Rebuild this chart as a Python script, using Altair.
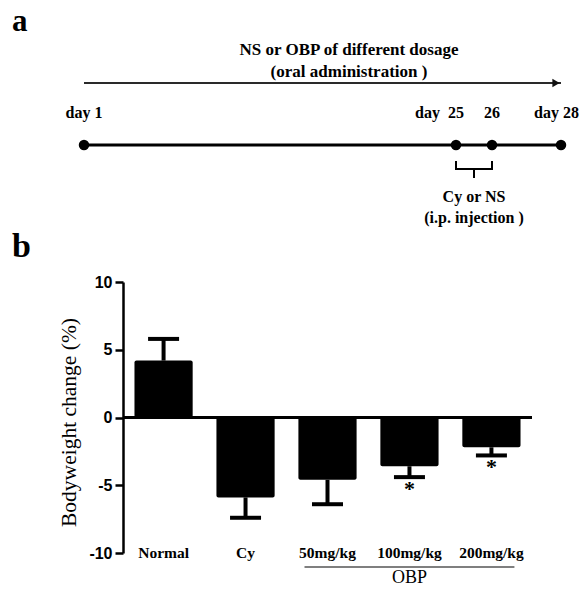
import altair as alt
import pandas as pd

# ---- panel b data ----
groups = ["Normal", "Cy", "50mg/kg", "100mg/kg", "200mg/kg"]
means = [4.2, -5.9, -4.6, -3.6, -2.2]
sems = [1.6, 1.5, 1.8, 0.8, 0.6]
stars = ["", "", "", "*", "*"]
y_ticks = [-10, -5, 0, 5, 10]
obp_groups = ["50mg/kg", "200mg/kg"]
obp_center = ["100mg/kg"]
obp_label = "OBP"

# ---- panel a data ----
days = [1, 25, 26, 28]
day_labels = ["day 1", "day\u00a0\u00a025", "26", "day 28"]
header_lines = ["NS or OBP of different dosage", "(oral administration )"]
injection_days = [25, 26]
injection_lines = ["Cy or NS", "(i.p. injection )"]

SERIF = "'Times New Roman', 'Liberation Serif', 'DejaVu Serif', serif"
SANS = "Arial, 'Liberation Sans', sans-serif"

bars_df = pd.DataFrame({
    "group": groups,
    "mean": means,
    "sem": sems,
    "star": stars,
})
bars_df["cap"] = [m + (s if m >= 0 else -s) for m, s in zip(means, sems)]

xs = alt.Scale(domain=groups, paddingInner=0.29, paddingOuter=0.14)
ys = alt.Scale(domain=[-10, 10], nice=False, zero=False)

base = alt.Chart(bars_df)

bars = base.mark_bar(color="black", cornerRadius=2).encode(
    x=alt.X("group:N", scale=xs, sort=groups,
            axis=alt.Axis(title=None, labelAngle=0, labelAlign="center", domain=False,
                          ticks=False, tickSize=0,
                          labelFont=SERIF, labelFontWeight="bold", labelFontSize=15.5,
                          labelColor="black", labelBaseline="middle", labelPadding=-1)),
    y=alt.Y("mean:Q", scale=ys,
            axis=alt.Axis(values=y_ticks, title="Bodyweight change (%)", grid=False,
                          labelExpr="datum.value + ''",
                          domainColor="black", domainWidth=2.5, tickColor="black",
                          tickWidth=2.5, tickSize=8, labelFont=SANS, labelFontWeight="bold",
                          labelFontSize=16, labelColor="black", labelPadding=3,
                          titleFont=SERIF, titleFontWeight="normal", titleFontSize=21.5,
                          titleColor="black", titlePadding=8, titleY=140)),
    y2=alt.datum(0),
)

stems = base.mark_rule(color="black", strokeWidth=4).encode(
    x=alt.X("group:N", scale=xs, sort=groups),
    y=alt.Y("mean:Q", scale=ys),
    y2="cap:Q",
)

caps = base.mark_tick(color="black", thickness=4, size=31, opacity=1).encode(
    x=alt.X("group:N", scale=xs, sort=groups),
    y=alt.Y("cap:Q", scale=ys),
)

star_marks = base.mark_text(font=SERIF, fontWeight="bold", fontSize=22, baseline="top",
                            dy=2, color="black").encode(
    x=alt.X("group:N", scale=xs, sort=groups),
    y=alt.Y("cap:Q", scale=ys),
    text="star:N",
)

zero = alt.Chart(pd.DataFrame({"z": [0]})).mark_rule(color="black", strokeWidth=3).encode(
    y=alt.Y("z:Q", scale=ys)
)

obp_line = alt.Chart(pd.DataFrame({"a": [obp_groups[0]], "b": [obp_groups[1]]})).mark_rule(
    color="black", strokeWidth=1.2, xOffset=-23, x2Offset=23
).encode(
    x=alt.X("a:N", scale=xs),
    x2="b:N",
    y=alt.value(285),
)

obp_text = alt.Chart(pd.DataFrame({"g": obp_center, "t": [obp_label]})).mark_text(
    font=SERIF, fontSize=18, baseline="alphabetic", color="black"
).encode(
    x=alt.X("g:N", scale=xs),
    y=alt.value(301),
    text="t:N",
)

panel_b = alt.layer(zero, stems, bars, caps, star_marks, obp_line, obp_text)

# ---- timeline (panel a) ----
ds = alt.Scale(domain=days, range=[-39, 333, 369, 438], nice=False, zero=False)
days_df = pd.DataFrame({"day": days, "label": day_labels})
tl = alt.Chart(days_df)

arrow_line = alt.Chart(pd.DataFrame({"s": [days[0]], "e": [days[-1]]})).mark_rule(
    color="#2a2a2a", strokeWidth=1.8
).encode(
    x=alt.X("s:Q", scale=ds, axis=None), x2="e:Q", y=alt.value(-199)
)
arrow_head = alt.Chart(pd.DataFrame({"e": [days[-1]]})).mark_point(
    shape="triangle-right", filled=True, size=70, color="#111111", opacity=1, xOffset=-5
).encode(
    x=alt.X("e:Q", scale=ds, axis=None), y=alt.value(-199)
)

main_line = alt.Chart(pd.DataFrame({"s": [days[0]], "e": [days[-1]]})).mark_rule(
    color="black", strokeWidth=3
).encode(
    x=alt.X("s:Q", scale=ds, axis=None), x2="e:Q", y=alt.value(-137)
)
dots = tl.mark_point(filled=True, size=110, color="black", opacity=1).encode(
    x=alt.X("day:Q", scale=ds, axis=None), y=alt.value(-137)
)

label_style = dict(font=SERIF, fontWeight="bold", fontSize=16, baseline="middle", color="black")
day_text_center = tl.transform_filter(
    (alt.datum.day != 25) & (alt.datum.day != 28)
).mark_text(**label_style).encode(
    x=alt.X("day:Q", scale=ds, axis=None), y=alt.value(-169), text="label:N"
)
day_text_25 = tl.transform_filter(alt.datum.day == 25).mark_text(
    align="right", dx=8, **label_style
).encode(
    x=alt.X("day:Q", scale=ds, axis=None), y=alt.value(-169), text="label:N"
)
day_text_28 = tl.transform_filter(alt.datum.day == 28).mark_text(
    align="right", dx=18, **label_style
).encode(
    x=alt.X("day:Q", scale=ds, axis=None), y=alt.value(-169), text="label:N"
)

inj_df = pd.DataFrame({"day": injection_days})
brace_h = alt.Chart(pd.DataFrame({"s": [injection_days[0]], "e": [injection_days[1]]})).mark_rule(
    color="black", strokeWidth=2
).encode(
    x=alt.X("s:Q", scale=ds, axis=None), x2="e:Q", y=alt.value(-113)
)
brace_v = alt.Chart(inj_df).mark_rule(color="black", strokeWidth=2).encode(
    x=alt.X("day:Q", scale=ds, axis=None), y=alt.value(-121), y2=alt.value(-112)
)
brace_mid = alt.Chart(inj_df).transform_aggregate(mid="mean(day)").mark_rule(
    color="black", strokeWidth=2
).encode(
    x=alt.X("mid:Q", scale=ds, axis=None), y=alt.value(-113), y2=alt.value(-104)
)
inj_layers = []
for line, yy in zip(injection_lines, [-85, -64]):
    inj_layers.append(
        alt.Chart(inj_df).transform_aggregate(mid="mean(day)").mark_text(**label_style).encode(
            x=alt.X("mid:Q", scale=ds, axis=None), y=alt.value(yy), text=alt.value(line)
        )
    )

header_layers = []
for line, yy in zip(header_lines, [-232, -210]):
    header_layers.append(
        alt.Chart(pd.DataFrame({"t": [line]})).mark_text(
            font=SERIF, fontWeight="bold", fontSize=17, baseline="middle", color="black"
        ).encode(x=alt.value(226), y=alt.value(yy), text="t:N")
    )

panel_letters = []
for letter, yy, fs in zip(["a", "b"], [-251, -25], [31, 34]):
    panel_letters.append(
        alt.Chart(pd.DataFrame({"t": [letter]})).mark_text(
            font=SERIF, fontWeight="bold", fontSize=fs, align="left", baseline="alphabetic",
            color="black"
        ).encode(x=alt.value(-111), y=alt.value(yy), text="t:N")
    )

panel_a = alt.layer(arrow_line, arrow_head, main_line, dots, day_text_center, day_text_25,
                    day_text_28, brace_h, brace_v, brace_mid, *inj_layers, *header_layers,
                    *panel_letters)

chart = alt.layer(panel_a, panel_b).resolve_scale(x="independent", y="independent").properties(
    width=409, height=271,
    background="white",
    autosize=alt.AutoSizeParams(type="none"),
    padding={"left": 115, "top": 274, "right": 47, "bottom": 33},
).configure_view(strokeWidth=0, stroke="transparent")

chart.save("out.html", embed_options={"renderer": "svg", "actions": False})
